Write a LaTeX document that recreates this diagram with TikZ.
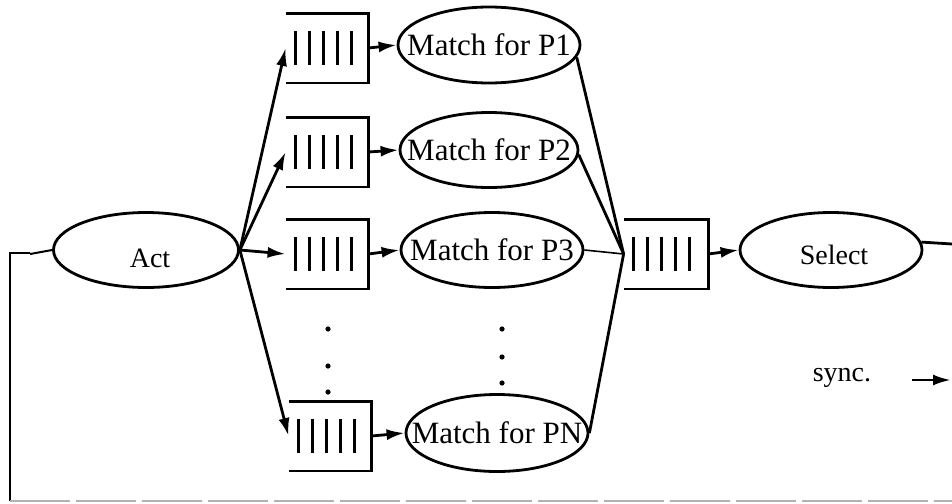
\documentclass[tikz,border=0pt]{standalone}
\usepackage{fontspec}
\setmainfont{Liberation Serif}
\usetikzlibrary{shapes.geometric,arrows.meta,calc}
\newcommand{\zw}[1]{\makebox[0pt]{#1}}
\begin{document}
\begin{tikzpicture}[x=0.5pt,y=-0.5pt,line width=1.4pt,
  ell/.style={ellipse,draw,inner sep=0pt,minimum width=91pt,minimum height=37.5pt,font=\fontsize{15.5}{18}\selectfont},
  small/.style={font=\fontsize{14}{16}\selectfont},
  qbox/.style={rectangle,minimum width=40pt,minimum height=33.5pt,inner sep=0pt},
  bar/.style={line width=1.6pt},
  arr/.style={-{Latex[length=9pt,width=5.5pt]}},
  dotmark/.style={circle,fill,inner sep=0pt,minimum size=2.6pt}]
\useasboundingbox (0,0) rectangle (952,503);
% nodes
\node[ell,small,minimum width=92.5pt] (act) at (146,250) {};
\node[small] (acttxt) at (150,258) {Act};
\node[qbox] (q1) at (327,48) {};
\node[qbox] (q2) at (327,152) {};
\node[qbox] (q3) at (327,254) {};
\node[qbox] (qn) at (330,436) {};
\node[qbox,minimum width=41pt] (qm) at (666,254) {};
\node[ell,minimum height=38pt] (m1) at (489,45) {\zw{Match for P1}};
\node[ell,minimum width=89pt] (m2) at (489,150) {\zw{Match for P2}};
\node[ell] (m3) at (492,250) {\zw{Match for P3}};
\node[ell,minimum height=38.5pt] (mn) at (497,433) {\zw{Match for PN}};
\node[ell,small] (sel) at (831,250) {};
\node[small] (seltxt) at (834,255) {Select};
\node[small] (sync) at (842,378) {sync.};
\coordinate (fork) at (act.east);
\coordinate (mg) at (qm.west);
\coordinate (outr) at (952,244);
\coordinate (synce) at (951,380);
\coordinate (fb1) at (10,253);
\coordinate (fb2) at (10,501);
\coordinate (fb3) at (952,501);
% queue boxes
\foreach \q in {q1,q2,q3,qn,qm}{
  \draw (\q.north west) -- (\q.north east) -- (\q.south east) -- (\q.south west);
  \foreach \i in {1,...,5}
    \draw[bar] ($(\q.west)+(\i*14-4,-17)$) -- ++(0,34);
}
% fork arrows
\draw[arr] (fork) -- (q1.west);
\draw[arr] (fork) -- (q2.west);
\draw[arr] (fork) -- (q3.west);
\draw[arr] (fork) -- (qn.west);
% queue to match
\draw[arr] (q1.east) -- (m1.west);
\draw[arr] (q2.east) -- (m2.west);
\draw[arr] (q3.east) -- (m3.west);
\draw[arr] (qn.east) -- (mn.west);
% merge
\draw (m1.-8) -- (mg);
\draw (m2.-3) -- (mg);
\draw[line width=0.8pt] (m3.east) -- (mg);
\draw (mn.east) -- (mg);
\draw[arr] (qm.east) -- (sel.west);
\draw (sel.5) -- (outr);
% sync
\draw[arr] ($(sync.east)+(33,2)$) -- (synce);
% dots
\foreach \y in {329,366,392} \node[dotmark] at (328,\y) {};
\foreach \y in {329,357,383} \node[dotmark] at (502,\y) {};
% feedback
\draw[line width=1pt] (act.west) -- ++(-22,4);
\draw[line width=1pt] ($(fb1)+(20,0)$) -- (fb1) -- (fb2);
\draw[gray!60,line width=1pt,dash pattern=on 30pt off 3pt] (fb2) -- (fb3);
\end{tikzpicture}
\end{document}
